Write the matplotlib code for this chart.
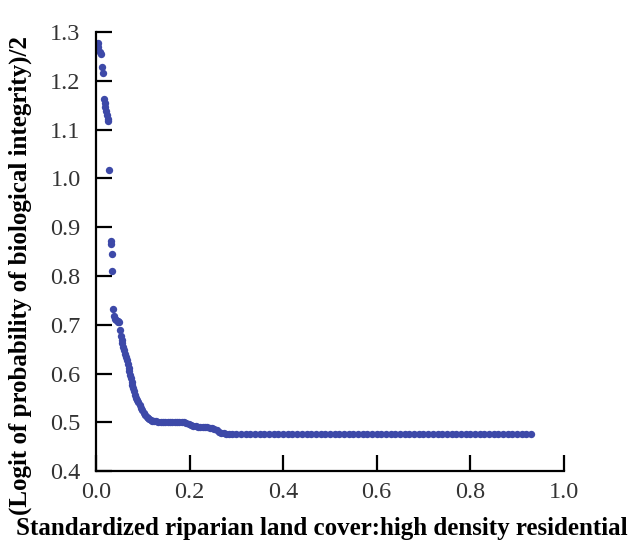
import matplotlib
matplotlib.use('Agg')
import matplotlib.pyplot as plt

# points
x_vals = [0.002, 0.004, 0.005, 0.008, 0.011, 0.013, 0.015, 0.017, 0.019, 0.020,
          0.022, 0.023, 0.025, 0.026, 0.028, 0.031, 0.032, 0.034, 0.035, 0.037,
          0.039, 0.041, 0.043, 0.046, 0.048, 0.050, 0.052, 0.054, 0.055, 0.056,
          0.058, 0.060, 0.062, 0.064, 0.066, 0.068, 0.070, 0.071, 0.073, 0.074,
          0.076, 0.078, 0.080, 0.082, 0.084, 0.086, 0.088, 0.090, 0.093, 0.096,
          0.099, 0.102, 0.105, 0.108, 0.111, 0.114, 0.117, 0.120, 0.124, 0.128,
          0.133, 0.138, 0.143, 0.148, 0.153, 0.158, 0.163, 0.168, 0.173, 0.178,
          0.183, 0.188, 0.193, 0.198, 0.203, 0.208, 0.213, 0.218, 0.223, 0.228,
          0.233, 0.238, 0.243, 0.248, 0.253, 0.258, 0.263, 0.268, 0.273, 0.278,
          0.285, 0.29, 0.30, 0.31, 0.32, 0.33, 0.34, 0.35, 0.36, 0.37,
          0.38, 0.39, 0.40, 0.41, 0.42, 0.43, 0.44, 0.45, 0.46, 0.47,
          0.48, 0.49, 0.50, 0.51, 0.52, 0.53, 0.54, 0.55, 0.56, 0.57,
          0.58, 0.59, 0.60, 0.61, 0.62, 0.63, 0.64, 0.65, 0.66, 0.67,
          0.68, 0.69, 0.70, 0.71, 0.72, 0.73, 0.74, 0.75, 0.76, 0.77,
          0.78, 0.79, 0.80, 0.81, 0.82, 0.83, 0.84, 0.85, 0.86, 0.87,
          0.88, 0.89, 0.90, 0.91, 0.92, 0.93]
y_vals = [1.275, 1.278, 1.270, 1.258, 1.255, 1.228, 1.216, 1.163, 1.155, 1.147,
          1.138, 1.130, 1.122, 1.117, 1.018, 0.872, 0.866, 0.846, 0.811, 0.733,
          0.718, 0.712, 0.709, 0.708, 0.706, 0.705, 0.690, 0.676, 0.668, 0.662,
          0.655, 0.648, 0.640, 0.633, 0.627, 0.620, 0.612, 0.605, 0.597, 0.590,
          0.583, 0.576, 0.570, 0.564, 0.557, 0.551, 0.546, 0.541, 0.535, 0.530,
          0.525, 0.520, 0.516, 0.512, 0.509, 0.506, 0.504, 0.503, 0.502, 0.502,
          0.501, 0.501, 0.501, 0.501, 0.500, 0.500, 0.500, 0.500, 0.500, 0.500,
          0.500, 0.500, 0.499, 0.497, 0.495, 0.493, 0.492, 0.491, 0.491, 0.490,
          0.490, 0.490, 0.489, 0.488, 0.486, 0.484, 0.481, 0.479, 0.478, 0.477,
          0.476, 0.476, 0.476, 0.476, 0.476, 0.476, 0.477, 0.477, 0.477, 0.477,
          0.477, 0.477, 0.477, 0.477, 0.477, 0.477, 0.477, 0.477, 0.477, 0.477,
          0.477, 0.477, 0.477, 0.477, 0.477, 0.476, 0.476, 0.476, 0.476, 0.476,
          0.476, 0.476, 0.476, 0.476, 0.476, 0.476, 0.476, 0.476, 0.476, 0.476,
          0.476, 0.476, 0.476, 0.476, 0.476, 0.476, 0.476, 0.476, 0.476, 0.476,
          0.476, 0.476, 0.476, 0.476, 0.476, 0.476, 0.476, 0.476, 0.476, 0.476,
          0.476, 0.476, 0.476, 0.476, 0.476, 0.476]

x_ticks = [0.0, 0.2, 0.4, 0.6, 0.8, 1.0]
y_ticks = [0.4, 0.5, 0.6, 0.7, 0.8, 0.9, 1.0, 1.1, 1.2, 1.3]

plt.rcParams['font.family'] = ['Liberation Serif', 'DejaVu Serif']

fig = plt.figure(figsize=(6.4, 5.41), dpi=100)
ax = fig.add_axes([0.15, 0.129, 0.731, 0.812])

ax.plot(x_vals, y_vals, 'o', color='#3d49a8', markersize=5.3, markeredgewidth=0)

ax.set_xlim(0.0, 1.0)
ax.set_ylim(0.4, 1.3)
ax.set_xticks(x_ticks)
ax.set_yticks(y_ticks)
ax.set_xticklabels([f'{t:.1f}' for t in x_ticks])
ax.set_yticklabels([f'{t:.1f}' for t in y_ticks])

for s in ['top', 'right']:
    ax.spines[s].set_visible(False)
for s in ['left', 'bottom']:
    ax.spines[s].set_linewidth(1.6)
    ax.spines[s].set_color('black')

ax.tick_params(direction='in', length=11.5, width=1.6, labelsize=17.5,
               labelcolor='#333333')
ax.tick_params(axis='y', pad=11)
ax.tick_params(axis='x', pad=8)

# axis titles placed by hand to match the reference
fig.text(0.503, 0.012, 'Standardized riparian land cover:high density residential',
         fontsize=18, fontweight='bold', ha='center', va='baseline')
fig.text(0.032, 0.49, '(Logit of probability of biological integrity)/2',
         fontsize=18, fontweight='bold', rotation=90, ha='center', va='center')

fig.savefig('out.png', dpi=100)
